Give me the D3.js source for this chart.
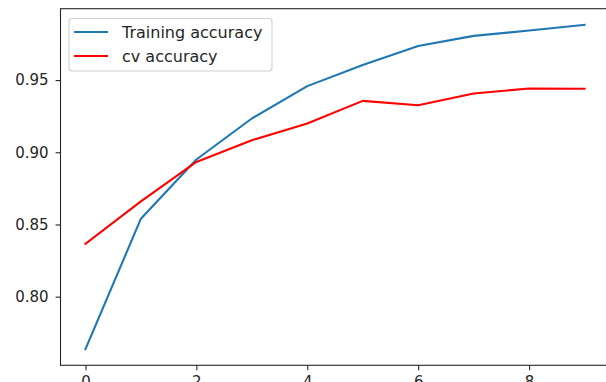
<!DOCTYPE html>
<html>
<head>
<meta charset="utf-8">
<script src="https://cdn.jsdelivr.net/npm/d3@7"></script>
<style>
  html, body { margin: 0; padding: 0; background: #fff; }
  svg { display: block; }
  text { font-family: "DejaVu Sans", sans-serif; fill: #262626; }
</style>
</head>
<body>
<div id="chart"></div>
<script>
// Accuracy per epoch
const epochs = [0, 1, 2, 3, 4, 5, 6, 7, 8, 9];
const trainingAccuracy = [0.7637, 0.854, 0.895, 0.9234, 0.9458, 0.9604, 0.9736, 0.9806, 0.9843, 0.9882];
const cvAccuracy = [0.8366, 0.866, 0.8933, 0.9083, 0.9199, 0.9356, 0.9326, 0.9407, 0.9442, 0.944];
const seriesNames = ["Training accuracy", "cv accuracy"];
const seriesColors = ["#1f77b4", "#ff0000"];
const xTickValues = [0, 2, 4, 6, 8];
const yTickValues = [0.80, 0.85, 0.90, 0.95];

const W = 606, H = 382;
const plot = { left: 60.5, right: 609.5, top: 8.7, bottom: 365.3 };

const svg = d3.select("#chart").append("svg")
  .attr("width", W).attr("height", H);

// Axis limits with a 5% margin on each side of the data range
const xExt = d3.extent(epochs);
const xPad = (xExt[1] - xExt[0]) * 0.05;
const allY = trainingAccuracy.concat(cvAccuracy);
const yExt = d3.extent(allY);
const yPad = (yExt[1] - yExt[0]) * 0.05;

const x = d3.scaleLinear().domain([xExt[0] - xPad, xExt[1] + xPad]).range([plot.left, plot.right]);
const y = d3.scaleLinear().domain([yExt[0] - yPad, yExt[1] + yPad]).range([plot.bottom, plot.top]);

// Data lines
const line = d3.line().x((d, i) => x(epochs[i])).y(d => y(d));
[trainingAccuracy, cvAccuracy].forEach((vals, k) => {
  svg.append("path")
    .datum(vals)
    .attr("fill", "none")
    .attr("stroke", seriesColors[k])
    .attr("stroke-width", 2.1)
    .attr("stroke-linejoin", "round")
    .attr("stroke-linecap", "square")
    .attr("d", line);
});

// Axes
const xAxis = d3.axisBottom(x).tickValues(xTickValues).tickFormat(d3.format("d"))
  .tickSizeInner(4.9).tickSizeOuter(0).tickPadding(6.5);
const yAxis = d3.axisLeft(y).tickValues(yTickValues).tickFormat(d3.format(".2f"))
  .tickSizeInner(4.9).tickSizeOuter(0).tickPadding(7);

const gx = svg.append("g").attr("transform", `translate(0,${plot.bottom})`).call(xAxis);
const gy = svg.append("g").attr("transform", `translate(${plot.left},0)`).call(yAxis);
[gx, gy].forEach(g => {
  g.select(".domain").remove();
  g.selectAll(".tick line").attr("stroke", "#262626").attr("stroke-width", 1.1);
  g.selectAll(".tick text").style("font-size", "15px").attr("fill", "#262626");
});

// Frame
svg.append("rect")
  .attr("x", plot.left).attr("y", plot.top)
  .attr("width", plot.right - plot.left).attr("height", plot.bottom - plot.top)
  .attr("fill", "none").attr("stroke", "#262626").attr("stroke-width", 1.1);

// Legend
const lg = svg.append("g").attr("transform", "translate(69,18.5)");
lg.append("rect")
  .attr("width", 203).attr("height", 52.5)
  .attr("rx", 3).attr("ry", 3)
  .attr("fill", "#fff").attr("fill-opacity", 0.8)
  .attr("stroke", "#d0d0d0").attr("stroke-width", 1.1);
seriesNames.forEach((name, i) => {
  const cy = 13.5 + i * 24;
  lg.append("line")
    .attr("x1", 5).attr("x2", 39).attr("y1", cy).attr("y2", cy)
    .attr("stroke", seriesColors[i]).attr("stroke-width", 2.1);
  lg.append("text")
    .attr("x", 53).attr("y", cy + 5.5)
    .style("font-size", "16px")
    .text(name);
});
</script>
</body>
</html>
